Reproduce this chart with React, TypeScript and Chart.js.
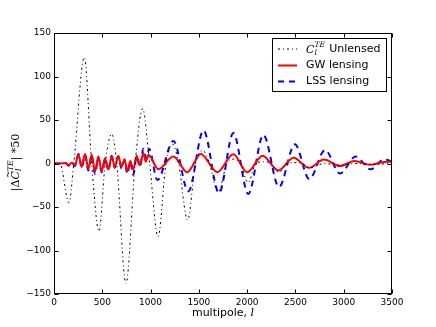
import React, { useEffect, useRef } from "react";
import { Chart, registerables } from "chart.js";
Chart.register(...registerables);

// Unlensed C_l^TE (scaled), read at extrema / crossings
const unlensedL = [0, 60, 155, 205, 314, 390, 466, 530, 597, 650, 745, 840, 918, 990, 1077, 1160, 1230, 1290, 1384, 1465, 1540, 1610, 1700, 1790, 1860, 1930, 2010, 2090, 2170, 2250, 2330, 2410, 2490, 2570, 2650, 2800, 2960, 3120, 3280, 3500];
const unlensedV = [0, 0, -45, 0, 122, 0, -78, 0, 34, 0, -138, 0, 63, 0, -84, 0, 22, 0, -65, 0, 15, 0, -33, 0, 5, 0, -22, 0, 2, 0, -10, 0, 1, 0, -5, 0, -2, 0, -1, 0];

// GW lensing difference (x50)
const gwL = [0, 60, 120, 150, 185, 215, 254, 287, 321, 356, 390, 425, 459, 494, 528, 563, 597, 630, 666, 700, 730, 759, 790, 820, 856, 890, 925, 950, 977, 1080, 1236, 1380, 1520, 1690, 1857, 2000, 2160, 2323, 2480, 2640, 2795, 2962, 3110, 3275, 3400, 3500];
const gwV = [0, 0, 0.5, -2, 1, -2, 10, -4, 11, -6, 10, -9, 8, -9, 6, -7, 8, -4, 9, -4, 5, -9, 3, -7, 9, -2, 12, 2, 10, -6.5, 8, -10, 11, -10, 10.5, -10, 9, -8, 6.5, -5, 4.5, -3, 3, -1.5, 1.5, 2];

// LSS lensing difference (x50)
const lssL = [0, 60, 120, 150, 185, 215, 254, 287, 321, 356, 390, 425, 459, 494, 528, 563, 597, 630, 666, 700, 730, 759, 790, 820, 856, 890, 925, 955, 985, 1070, 1236, 1391, 1548, 1709, 1857, 2012, 2168, 2330, 2494, 2644, 2806, 2962, 3124, 3279, 3420, 3500];
const lssV = [0, 0, 0.5, -2.5, 1, -3, 11, -5, 10, -8, 9, -12, 7, -10, 5, -8, 9, -5, 8, -6, 4, -12, 2, -13, 8, -4, 17, 6, 17, -19, 26, -32, 38, -34, 35, -35, 33, -27, 22, -18, 15.5, -11.5, 8, -6.7, 5, 2];

const xTicks = [0, 500, 1000, 1500, 2000, 2500, 3000, 3500];
const yTicks = [-150, -100, -50, 0, 50, 100, 150];

const seriesLabels = ["Unlensed", "GW lensing", "LSS lensing"];

function toPts(ls: number[], vs: number[]) {
  return ls.map((l, i) => ({ x: l, y: vs[i] }));
}

function drawMathC(ctx: CanvasRenderingContext2D, x: number, y: number, size: number, tilde: boolean) {
  ctx.font = `italic ${size}px "DejaVu Serif"`;
  ctx.fillText("C", x, y);
  const wC = ctx.measureText("C").width;
  if (tilde) {
    ctx.font = `${size * 0.8}px "DejaVu Serif"`;
    const wt = ctx.measureText("~").width;
    ctx.fillText("~", x + wC / 2 - wt / 2 + 1, y - size * 0.62);
  }
  const s = size * 0.7;
  ctx.font = `italic ${s}px "DejaVu Serif"`;
  ctx.fillText("l", x + wC, y + size * 0.3);
  const wl = ctx.measureText("l").width;
  ctx.fillText("TE", x + wC, y - size * 0.45);
  const wte = ctx.measureText("TE").width;
  return wC + Math.max(wl, wte);
}

const framePlugin = {
  id: "frame",
  afterDraw(chart: any) {
    const ctx: CanvasRenderingContext2D = chart.ctx;
    const a = chart.chartArea;
    const xs = chart.scales.x;
    const ys = chart.scales.y;
    ctx.save();
    ctx.strokeStyle = "#000";
    ctx.lineWidth = 1;
    ctx.setLineDash([]);
    const L = Math.round(a.left) + 0.5, R = Math.round(a.right) - 0.5;
    const T = Math.round(a.top) + 0.5, B = Math.round(a.bottom) - 0.5;
    ctx.strokeRect(L, T, R - L, B - T);
    ctx.beginPath();
    xTicks.forEach((t) => {
      const px = Math.round(xs.getPixelForValue(t)) + 0.5;
      ctx.moveTo(px, B); ctx.lineTo(px, B - 4);
      ctx.moveTo(px, T); ctx.lineTo(px, T + 4);
    });
    yTicks.forEach((t) => {
      const py = Math.round(ys.getPixelForValue(t)) + 0.5;
      ctx.moveTo(L, py); ctx.lineTo(L + 4, py);
      ctx.moveTo(R, py); ctx.lineTo(R - 4, py);
    });
    ctx.stroke();

    // Legend
    ctx.fillStyle = "#fff";
    ctx.fillRect(272, 38, 114, 54);
    ctx.strokeRect(272.5, 38.5, 114, 53);
    const rows = [49, 65.5, 81.5];
    const ds = chart.data.datasets;
    rows.forEach((ry, i) => {
      const d = ds[i];
      ctx.save();
      ctx.strokeStyle = d.borderColor;
      ctx.lineWidth = d.borderWidth;
      ctx.setLineDash(d.borderDash || []);
      ctx.beginPath();
      ctx.moveTo(278, ry);
      ctx.lineTo(297, ry);
      ctx.stroke();
      ctx.restore();
    });
    ctx.fillStyle = "#000";
    ctx.textBaseline = "middle";
    ctx.textAlign = "left";
    const w = drawMathC(ctx, 306, rows[0] + 1, 11, false);
    ctx.font = '11px "DejaVu Sans"';
    ctx.fillText(seriesLabels[0], 306 + w + 4, rows[0]);
    ctx.fillText(seriesLabels[1], 306, rows[1]);
    ctx.fillText(seriesLabels[2], 306, rows[2]);

    // X title
    ctx.font = '11px "DejaVu Sans"';
    const xt = "multipole, ";
    const w1 = ctx.measureText(xt).width;
    ctx.font = 'italic 11px "DejaVu Serif"';
    const w2 = ctx.measureText("l").width;
    const cx = (a.left + a.right) / 2;
    ctx.textAlign = "left";
    ctx.font = '11px "DejaVu Sans"';
    ctx.fillText(xt, cx - (w1 + w2) / 2, 313);
    ctx.font = 'italic 11px "DejaVu Serif"';
    ctx.fillText("l", cx - (w1 + w2) / 2 + w1, 313);

    // Y title
    ctx.save();
    ctx.translate(16, 163);
    ctx.rotate(-Math.PI / 2);
    ctx.textAlign = "left";
    ctx.textBaseline = "middle";
    ctx.font = '11px "DejaVu Serif"';
    const pre = "|\u0394";
    const post = "| *50";
    const wp = ctx.measureText(pre).width;
    const wq = ctx.measureText(post).width;
    const total = wp + 18 + wq;
    let x0 = -total / 2;
    ctx.fillText(pre, x0, 0);
    x0 += wp;
    const wc = drawMathC(ctx, x0, 0, 11, true);
    x0 += wc;
    ctx.font = '11px "DejaVu Serif"';
    ctx.fillText(post, x0, 0);
    ctx.restore();

    ctx.restore();
  },
};

export default function App() {
  const ref = useRef<HTMLCanvasElement | null>(null);
  useEffect(() => {
    document.body.style.margin = "0";
    const canvas = ref.current!;
    const chart = new Chart(canvas, {
      type: "line",
      data: {
        datasets: [
          {
            label: "Unlensed",
            data: toPts(unlensedL, unlensedV),
            borderColor: "#000",
            borderWidth: 1,
            borderDash: [2, 3, 1, 3],
            pointRadius: 0,
            cubicInterpolationMode: "monotone",
          },
          {
            label: "GW lensing",
            data: toPts(gwL, gwV),
            borderColor: "#ff0000",
            borderWidth: 2,
            pointRadius: 0,
            cubicInterpolationMode: "monotone",
          },
          {
            label: "LSS lensing",
            data: toPts(lssL, lssV),
            borderColor: "#0000ff",
            borderWidth: 2,
            borderDash: [6, 5],
            pointRadius: 0,
            cubicInterpolationMode: "monotone",
          },
        ] as any,
      },
      options: {
        responsive: false,
        animation: false,
        layout: { padding: { top: 33, right: 44, left: 0, bottom: 0 } },
        plugins: { legend: { display: false }, tooltip: { enabled: false } },
        scales: {
          x: {
            type: "linear",
            min: 0,
            max: 3500,
            afterBuildTicks: (s: any) => { s.ticks = xTicks.map((v) => ({ value: v })); },
            afterFit: (s: any) => { s.height = 33; },
            grid: { display: false, drawTicks: false },
            border: { display: false },
            ticks: {
              padding: 3,
              color: "#000",
              maxRotation: 0,
              font: { family: "DejaVu Sans", size: 9 },
              callback: (v: any) => String(v),
            },
          },
          y: {
            type: "linear",
            min: -150,
            max: 150,
            afterBuildTicks: (s: any) => { s.ticks = yTicks.map((v) => ({ value: v })); },
            afterFit: (s: any) => { s.width = 54; },
            grid: { display: false, drawTicks: false },
            border: { display: false },
            ticks: {
              padding: 3,
              color: "#000",
              font: { family: "DejaVu Sans", size: 9 },
              callback: (v: any) => String(v).replace("-", "\u2212"),
            },
          },
        },
      } as any,
      plugins: [framePlugin],
    });
    return () => chart.destroy();
  }, []);
  return (
    <div style={{ position: "fixed", left: 0, top: 0, width: 436, height: 327, background: "#fff" }}>
      <canvas ref={ref} width={436} height={327} style={{ width: 436, height: 327, display: "block" }} />
    </div>
  );
}
